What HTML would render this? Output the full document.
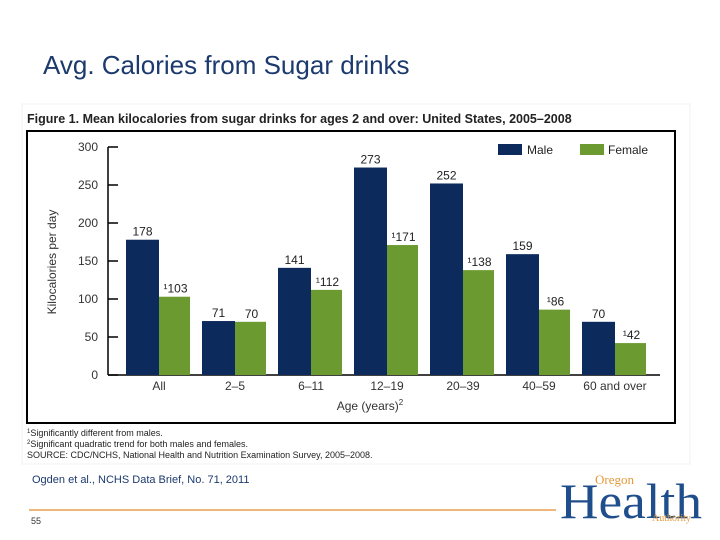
<!DOCTYPE html>
<html><head><meta charset="utf-8"><style>
body{margin:0;width:720px;height:540px;background:#fff;position:relative;overflow:hidden;font-family:"Liberation Sans",sans-serif}
.abs{position:absolute;white-space:nowrap}
</style></head><body>
<div class="abs" style="left:43px;top:50px;font-size:26px;color:#1c3a6e">Avg. Calories from Sugar drinks</div>
<svg class="abs" style="left:0;top:0" width="720" height="540">
<rect x="22" y="104" width="668" height="360" fill="#fff" stroke="#f0f0f0"/>
<text x="27" y="123" font-size="12.5" font-weight="bold" fill="#222">Figure 1. Mean kilocalories from sugar drinks for ages 2 and over: United States, 2005–2008</text>
<rect x="27" y="131" width="648" height="292" fill="#fff" stroke="#000" stroke-width="2"/>
<g id="plot"></g>
<text transform="translate(56,262) rotate(-90)" text-anchor="middle" font-size="12" fill="#333">Kilocalories per day</text>
<text x="370" y="410" text-anchor="middle" font-size="12" fill="#333">Age (years)<tspan font-size="8" dy="-5">2</tspan></text>
<rect x="498" y="144" width="24" height="11" fill="#0d2a5c"/>
<text x="527" y="154" font-size="12" fill="#222">Male</text>
<rect x="580" y="144" width="24" height="11" fill="#6a9a30"/>
<text x="608" y="154" font-size="12" fill="#222">Female</text>
<g font-size="9" fill="#222">
<text x="27" y="436"><tspan font-size="6" dy="-3">1</tspan><tspan dy="3">Significantly different from males.</tspan></text>
<text x="27" y="447"><tspan font-size="6" dy="-3">2</tspan><tspan dy="3">Significant quadratic trend for both males and females.</tspan></text>
<text x="27" y="458">SOURCE: CDC/NCHS, National Health and Nutrition Examination Survey, 2005–2008.</text>
</g>
<text x="32" y="483" font-size="11" fill="#1c3a6e">Ogden et al., NCHS Data Brief, No. 71, 2011</text>
<line x1="29" y1="510" x2="556" y2="510" stroke="#e8a050" stroke-width="1.5"/>
<text x="31" y="524" font-size="9" fill="#333">55</text>
<g>
<text x="595" y="484" font-size="13" font-family="Liberation Serif,serif" fill="#e39a3a">Oregon</text>
<text x="560" y="518" font-size="50" font-family="Liberation Serif,serif" fill="#1f4e8c" textLength="142" lengthAdjust="spacingAndGlyphs">Health</text>
<text x="652" y="521" font-size="10" font-family="Liberation Serif,serif" fill="#e39a3a">Authority</text>
</g>
</svg>
<script>
const categories=["All","2–5","6–11","12–19","20–39","40–59","60 and over"];
const maleValues=[178,71,141,273,252,159,70];
const femaleValues=[103,70,112,171,138,86,42];
const femaleSig=[true,false,true,true,true,true,true];
const yTicks=[0,50,100,150,200,250,300];
const NS="http://www.w3.org/2000/svg";
const g=document.getElementById('plot');
const y0=375,pxPer=0.76,x0=126,step=76,bw=33;
const yS=v=>y0-v*pxPer;
const xS=i=>x0+i*step;
function mk(t,a,txt){const e=document.createElementNS(NS,t);for(const k in a)e.setAttribute(k,a[k]);if(txt!=null)e.textContent=txt;g.appendChild(e);return e;}
const ax=mk('line',{x1:108,y1:yS(300),x2:108,y2:y0,stroke:'#000','stroke-width':1.5});


const bx=mk('line',{x1:108,y1:y0,x2:660,y2:y0,stroke:'#000','stroke-width':1.5});


yTicks.forEach(v=>{
 const tl=mk('line',{x1:108,y1:yS(v),x2:118,y2:yS(v),stroke:'#000','stroke-width':1.5});
 
 
 const t=mk('text',{x:98,y:yS(v)+4,'text-anchor':'end','font-size':12,fill:'#333'},v);
 
 
});
categories.forEach((c,i)=>{
 const x=xS(i);
 const m=mk('rect',{x:x,y:yS(maleValues[i]),width:bw,height:maleValues[i]*pxPer,fill:'#0d2a5c'});
 
 
 const f=mk('rect',{x:x+bw,y:yS(femaleValues[i]),width:bw-2,height:femaleValues[i]*pxPer,fill:'#6a9a30'});
 
 
 const ml=mk('text',{x:x+bw/2,y:yS(maleValues[i])-4,'text-anchor':'middle','font-size':12,fill:'#222'},maleValues[i]);
 
 
 const fl=mk('text',{x:x+bw+bw/2,y:yS(femaleValues[i])-4,'text-anchor':'middle','font-size':12,fill:'#222'},(femaleSig[i]?'¹':'')+femaleValues[i]);
 
 
 const cl=mk('text',{x:x+bw,y:y0+15,'text-anchor':'middle','font-size':12,fill:'#333'},c);
 
 
});
</script>
</body></html>
